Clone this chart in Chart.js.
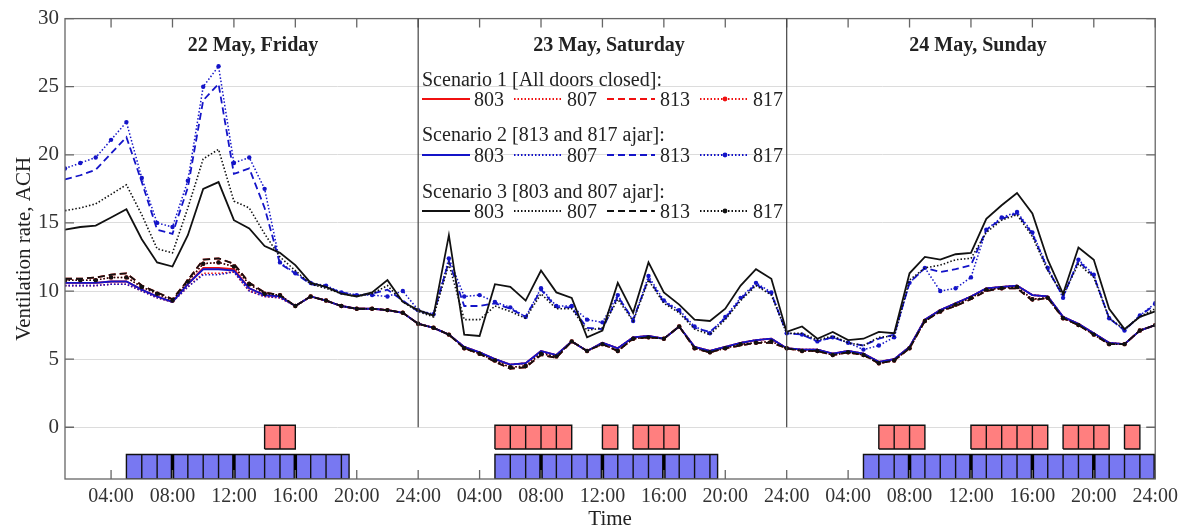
<!DOCTYPE html>
<html>
<head>
<meta charset="utf-8">
<script src="https://cdn.jsdelivr.net/npm/chart.js"></script>
<style>
  body { margin: 0; background: #fff; }
  #wrap { position: relative; width: 1184px; height: 532px; }
  #overlay { position: absolute; left: 0; top: 0; pointer-events: none; }
  #overlay text { font-family: "Liberation Serif", "Times New Roman", serif; fill: #222; }
</style>
</head>
<body>
<div id="wrap">
  <canvas id="myChart" width="1184" height="532"></canvas>
  <svg id="overlay" width="1184" height="532" xmlns="http://www.w3.org/2000/svg"></svg>
</div>
<script>
// hours since 22 May 00:00
const hours = [1,2,3,4,5,6,7,8,9,10,11,12,13,14,15,16,17,18,19,20,21,22,23,24,
  25,26,27,28,29,30,31,32,33,34,35,36,37,38,39,40,41,42,43,44,45,46,47,48,
  49,50,51,52,53,54,55,56,57,58,59,60,61,62,63,64,65,66,67,68,69,70,71,72];

const tickHours = [4,8,12,16,20,24,28,32,36,40,44,48,52,56,60,64,68,72];
const tickLabels = ["04:00","08:00","12:00","16:00","20:00","24:00","04:00","08:00","12:00",
  "16:00","20:00","24:00","04:00","08:00","12:00","16:00","20:00","24:00"];
const yTicks = [0,5,10,15,20,25,30];
const dayBreaks = [24,48];
const dayTitles = ["22 May, Friday", "23 May, Saturday", "24 May, Sunday"];

// Scenario 1 [All doors closed]
const s1_803 = [10.6,10.6,10.6,10.7,10.7,10.1,9.6,9.2,10.5,11.7,11.7,11.6,10.2,9.7,9.6,8.9,9.6,9.3,8.9,8.7,8.7,8.6,8.4,7.6,
  7.3,6.8,5.9,5.5,5.0,4.6,4.7,5.6,5.3,6.3,5.6,6.2,5.8,6.6,6.7,6.5,7.4,5.9,5.6,5.9,6.2,6.4,6.5,5.8,
  5.7,5.7,5.4,5.6,5.4,4.8,5.0,5.9,7.9,8.6,9.1,9.6,10.2,10.3,10.4,9.7,9.6,8.1,7.6,6.9,6.2,6.1,7.1,7.5];
const s1_807 = [10.4,10.4,10.4,10.5,10.5,10.0,9.5,9.2,10.3,11.3,11.3,11.4,10.0,9.6,9.5,8.9,9.6,9.3,8.9,8.7,8.7,8.6,8.4,7.6,
  7.3,6.8,5.9,5.5,5.0,4.6,4.7,5.5,5.3,6.3,5.6,6.2,5.8,6.6,6.7,6.5,7.4,5.9,5.6,5.9,6.2,6.4,6.5,5.8,
  5.7,5.7,5.4,5.6,5.4,4.8,5.0,5.9,7.9,8.6,9.1,9.6,10.2,10.3,10.4,9.7,9.6,8.1,7.6,6.9,6.2,6.1,7.1,7.5];
const s1_813 = [10.9,10.9,11.0,11.2,11.3,10.4,9.9,9.4,10.8,12.3,12.4,12.0,10.6,9.9,9.7,8.9,9.6,9.3,8.9,8.7,8.7,8.6,8.4,7.6,
  7.3,6.8,5.8,5.4,4.8,4.3,4.4,5.3,5.1,6.3,5.6,6.1,5.6,6.5,6.6,6.5,7.4,5.8,5.5,5.8,6.0,6.2,6.2,5.8,
  5.6,5.6,5.3,5.5,5.3,4.7,4.9,5.8,7.8,8.5,8.9,9.4,10.0,10.2,10.2,9.3,9.5,8.0,7.5,6.8,6.1,6.1,7.1,7.5];
const s1_817 = [10.8,10.8,10.8,11.0,11.0,10.3,9.8,9.3,10.7,12.0,12.1,11.8,10.5,9.8,9.7,8.9,9.6,9.3,8.9,8.7,8.7,8.6,8.4,7.6,
  7.3,6.8,5.8,5.4,4.9,4.4,4.5,5.4,5.2,6.3,5.6,6.1,5.6,6.5,6.6,6.5,7.4,5.8,5.5,5.8,6.1,6.2,6.3,5.8,
  5.6,5.6,5.3,5.5,5.3,4.7,4.9,5.8,7.8,8.5,9.0,9.5,10.1,10.2,10.3,9.4,9.5,8.0,7.5,6.8,6.1,6.1,7.1,7.5];

// Scenario 2 [813 and 817 ajar]
const s2_803 = [10.6,10.6,10.6,10.7,10.7,10.1,9.6,9.2,10.5,11.6,11.6,11.5,10.2,9.7,9.6,8.9,9.6,9.3,8.9,8.7,8.7,8.6,8.4,7.6,
  7.3,6.8,5.9,5.5,5.0,4.6,4.7,5.6,5.3,6.3,5.6,6.2,5.8,6.6,6.7,6.5,7.4,5.9,5.6,5.9,6.2,6.4,6.5,5.8,
  5.7,5.7,5.4,5.6,5.4,4.8,5.0,5.9,7.9,8.6,9.1,9.6,10.2,10.3,10.4,9.7,9.6,8.1,7.6,6.9,6.2,6.1,7.1,7.5];
const s2_807 = [10.4,10.4,10.4,10.5,10.5,10.0,9.5,9.2,10.3,11.2,11.2,11.4,10.0,9.6,9.5,8.9,9.6,9.3,8.9,8.7,8.7,8.6,8.4,7.6,
  7.3,6.8,5.9,5.5,5.0,4.6,4.7,5.5,5.3,6.3,5.6,6.2,5.8,6.6,6.7,6.5,7.4,5.9,5.6,5.9,6.2,6.4,6.5,5.8,
  5.7,5.7,5.4,5.6,5.4,4.8,5.0,5.9,7.9,8.6,9.1,9.6,10.2,10.3,10.4,9.7,9.6,8.1,7.6,6.9,6.2,6.1,7.1,7.5];
const s2_813 = [18.2,18.5,18.9,20.1,21.3,18.0,14.5,14.2,17.6,24.0,25.2,18.6,19.0,16.1,12.0,11.3,10.5,10.3,9.9,9.7,9.8,10.1,9.3,8.5,
  8.3,12.2,8.9,8.9,9.1,8.7,8.1,10.1,8.8,8.8,7.3,7.2,9.6,7.9,10.9,9.2,8.5,7.3,7.0,8.0,9.4,10.5,9.8,6.9,
  6.8,6.3,6.6,6.2,6.0,6.5,6.8,10.6,11.7,11.4,11.6,11.9,14.5,15.3,15.7,14.2,11.6,9.6,12.2,11.1,8.0,7.1,8.2,9.0];
const s2_817 = [19.0,19.4,19.8,21.1,22.4,18.3,15.0,14.7,18.1,25.0,26.5,19.4,19.8,17.5,12.1,11.3,10.6,10.4,9.9,9.7,9.7,9.6,10.0,8.6,
  8.3,12.4,9.6,9.7,9.2,8.8,8.1,10.2,8.9,8.9,7.9,7.7,9.7,7.8,11.1,9.3,8.6,7.4,6.9,8.1,9.5,10.6,9.9,6.9,
  6.8,6.3,6.6,6.2,5.7,6.0,6.6,10.6,11.7,10.0,10.2,11.0,14.5,15.4,15.8,14.3,11.7,9.5,12.3,11.2,8.0,7.1,8.2,9.1];

// Scenario 3 [803 and 807 ajar]
const s3_803 = [14.5,14.7,14.8,15.4,16.0,13.8,12.1,11.8,14.1,17.5,18.0,15.2,14.6,13.3,12.8,11.9,10.6,10.3,9.8,9.6,9.9,10.8,9.2,8.6,
  8.2,14.1,6.8,6.7,10.5,10.3,9.3,11.5,9.9,9.5,6.6,7.1,10.6,8.4,12.1,9.9,9.0,7.9,7.8,8.7,10.4,11.6,10.9,7.0,
  7.4,6.5,7.0,6.4,6.5,7.0,6.9,11.3,12.5,12.3,12.7,12.8,15.3,16.3,17.2,15.7,12.3,9.8,13.2,12.3,8.7,7.2,8.1,8.5];
const s3_807 = [15.9,16.1,16.4,17.1,17.8,15.6,13.1,12.8,16.1,19.7,20.4,16.6,16.1,14.2,12.5,11.5,10.5,10.2,9.8,9.6,9.8,10.4,9.2,8.5,
  8.1,12.0,7.9,7.9,8.9,8.5,8.0,9.8,8.7,8.7,7.1,7.3,9.4,7.8,10.8,9.1,8.4,7.2,6.8,7.9,9.3,10.4,9.7,6.9,
  6.9,6.4,6.7,6.2,6.0,6.6,6.7,10.8,11.7,11.9,12.3,12.4,14.3,15.2,15.6,14.0,11.5,9.7,12.0,11.0,8.0,7.2,8.1,8.7];
const s3_813 = [10.9,10.9,11.0,11.2,11.3,10.4,9.9,9.4,10.8,12.3,12.4,12.0,10.6,9.9,9.7,8.9,9.6,9.3,8.9,8.7,8.7,8.6,8.4,7.6,
  7.3,6.8,5.8,5.4,4.8,4.3,4.4,5.3,5.1,6.3,5.6,6.1,5.6,6.5,6.6,6.5,7.4,5.8,5.5,5.8,6.0,6.2,6.2,5.8,
  5.6,5.6,5.3,5.5,5.3,4.7,4.9,5.8,7.8,8.5,8.9,9.4,10.0,10.2,10.2,9.3,9.5,8.0,7.5,6.8,6.1,6.1,7.1,7.5];
const s3_817 = [10.8,10.8,10.8,11.0,11.0,10.3,9.8,9.3,10.7,12.0,12.1,11.8,10.5,9.8,9.7,8.9,9.6,9.3,8.9,8.7,8.7,8.6,8.4,7.6,
  7.3,6.8,5.8,5.4,4.9,4.4,4.5,5.4,5.2,6.3,5.6,6.1,5.6,6.5,6.6,6.5,7.4,5.8,5.5,5.8,6.1,6.2,6.3,5.8,
  5.6,5.6,5.3,5.5,5.3,4.7,4.9,5.8,7.8,8.5,9.0,9.5,10.1,10.2,10.3,9.4,9.5,8.0,7.5,6.8,6.1,6.1,7.1,7.5];

// occupancy blocks (start hour, end hour) and their band on the y axis
const redSpans = [[14,16],[29,34],[36,37],[38,41],[54,57],[60,65],[66,69],[70,71]];
const blueSpans = [[5,19.5],[29,43.5],[53,72]];
const redBand = [-1.6, 0.15];
const blueBand = [-3.8, -2.0];

const RED = "#f01010", BLUE = "#1414c8", BLACK = "#111111";
const FONT = '"Liberation Serif", "Times New Roman", serif';

const styles = {
  solid:   { borderDash: [], borderWidth: 1.8, pointRadius: 0 },
  dotted:  { borderDash: [1.5, 2], borderWidth: 1.6, pointRadius: 0 },
  dashed:  { borderDash: [7, 4], borderWidth: 1.8, pointRadius: 0 },
  dotmark: { borderDash: [1.5, 2], borderWidth: 1.5, pointRadius: 2.2 },
};

function series(label, vals, color, style, order) {
  return Object.assign({
    type: "line",
    label: label,
    data: hours.map((h, i) => ({ x: h, y: vals[i] })),
    borderColor: color,
    pointBackgroundColor: color,
    pointBorderWidth: 0,
    fill: false,
    tension: 0,
    order: order,
  }, styles[style]);
}

// one closed outline per block, with a divider at each hour
function blockPoints(span, band) {
  const [a, b] = span;
  const [lo, hi] = band;
  const pts = [{ x: a, y: lo }, { x: a, y: hi }];
  for (let h = Math.floor(a) + 1; h < b; h++) {
    pts.push({ x: h, y: hi }, { x: h, y: lo }, { x: h, y: hi });
  }
  pts.push({ x: b, y: hi }, { x: b, y: lo }, { x: a, y: lo });
  return pts;
}

function blocks(spans, band, color) {
  return spans.map((s) => ({
    type: "line",
    label: "block",
    data: blockPoints(s, band),
    borderColor: "#111",
    borderWidth: 1.4,
    backgroundColor: color,
    fill: "shape",
    pointRadius: 0,
    tension: 0,
    order: 10,
  }));
}

// heavier dividers where the 4-hour ticks fall inside a block
function heavyDividers(spans, band) {
  const pts = [];
  spans.forEach(([a, b]) => {
    tickHours.filter((h) => h > a && h <= b).forEach((h) => {
      pts.push({ x: h, y: band[0] }, { x: h, y: band[1] }, { x: h, y: null });
    });
  });
  return {
    type: "line",
    label: "dividers",
    data: pts,
    borderColor: "#000",
    borderWidth: 3.5,
    pointRadius: 0,
    spanGaps: false,
    fill: false,
    order: 9,
  };
}

const datasets = [
  series("S1 803", s1_803, RED, "solid", 3),
  series("S1 807", s1_807, RED, "dotted", 3),
  series("S1 813", s1_813, RED, "dashed", 3),
  series("S1 817", s1_817, RED, "dotmark", 3),
  series("S2 803", s2_803, BLUE, "solid", 2),
  series("S2 807", s2_807, BLUE, "dotted", 2),
  series("S2 813", s2_813, BLUE, "dashed", 2),
  series("S2 817", s2_817, BLUE, "dotmark", 2),
  series("S3 803", s3_803, BLACK, "solid", 1),
  series("S3 807", s3_807, BLACK, "dotted", 1),
  series("S3 813", s3_813, BLACK, "dashed", 1),
  series("S3 817", s3_817, BLACK, "dotmark", 1),
].concat(blocks(redSpans, redBand, "#ff7f7f"), blocks(blueSpans, blueBand, "#7878f2"),
  [heavyDividers(blueSpans, blueBand)]);

// box, inward ticks, day separators
const framePlugin = {
  id: "frame",
  afterDatasetsDraw(chart) {
    const { ctx, chartArea: a, scales } = chart;
    const x = scales.x, y = scales.y;
    ctx.save();
    ctx.strokeStyle = "#666";
    ctx.lineWidth = 1.3;
    ctx.strokeRect(a.left, a.top, a.right - a.left, a.bottom - a.top);
    ctx.beginPath();
    tickHours.forEach((h) => {
      const px = x.getPixelForValue(h);
      ctx.moveTo(px, a.bottom); ctx.lineTo(px, a.bottom - 9);
      ctx.moveTo(px, a.top); ctx.lineTo(px, a.top + 9);
    });
    yTicks.forEach((v) => {
      const py = y.getPixelForValue(v);
      ctx.moveTo(a.left, py); ctx.lineTo(a.left + 9, py);
      ctx.moveTo(a.right, py); ctx.lineTo(a.right - 9, py);
    });
    ctx.stroke();
    ctx.strokeStyle = "#444";
    ctx.lineWidth = 1.2;
    ctx.beginPath();
    dayBreaks.forEach((h) => {
      const px = x.getPixelForValue(h);
      ctx.moveTo(px, y.getPixelForValue(30));
      ctx.lineTo(px, y.getPixelForValue(0));
    });
    ctx.stroke();
    ctx.restore();
  },
};

const plot = new Chart(document.getElementById("myChart"), {
  type: "line",
  data: { datasets: datasets },
  plugins: [framePlugin],
  options: {
    responsive: false,
    animation: false,
    layout: { padding: { top: 18, right: 28, left: 8, bottom: 0 } },
    plugins: { legend: { display: false }, tooltip: { enabled: false } },
    scales: {
      x: {
        type: "linear",
        min: 1,
        max: 72,
        afterBuildTicks: (s) => { s.ticks = tickHours.map((v) => ({ value: v })); },
        afterFit: (s) => { s.height = 53; },
        grid: { display: false, drawTicks: false },
        border: { display: false },
        ticks: {
          autoSkip: false,
          maxRotation: 0,
          padding: 6,
          color: "#333",
          font: { family: FONT, size: 20 },
          callback: (v) => tickLabels[tickHours.indexOf(v)],
        },
        title: { display: true, text: "Time", color: "#222", font: { family: FONT, size: 21 }, padding: { top: 0, bottom: 0 } },
      },
      y: {
        min: -3.8,
        max: 30,
        afterBuildTicks: (s) => { s.ticks = yTicks.map((v) => ({ value: v })); },
        afterFit: (s) => { s.width = 57; },
        grid: { color: "#dcdcdc", lineWidth: 1, drawTicks: false },
        border: { display: false },
        ticks: { padding: 6, color: "#333", font: { family: FONT, size: 21 } },
        title: { display: true, text: "Ventilation rate, ACH", color: "#222", font: { family: FONT, size: 21 } },
      },
    },
  },
});

// day titles and legend as SVG text
const svg = document.getElementById("overlay");
const NS = "http://www.w3.org/2000/svg";
function el(tag, attrs, text) {
  const e = document.createElementNS(NS, tag);
  for (const k in attrs) e.setAttribute(k, attrs[k]);
  if (text) e.textContent = text;
  svg.appendChild(e);
  return e;
}

const titleX = [253, 609, 978];
dayTitles.forEach((t, i) => {
  el("text", { x: titleX[i], y: 51, "text-anchor": "middle", "font-size": 20, "font-weight": "bold" }, t);
});

const legendGroups = [
  { title: "Scenario 1 [All doors closed]:", color: RED },
  { title: "Scenario 2 [813 and 817 ajar]:", color: BLUE },
  { title: "Scenario 3 [803 and 807 ajar]:", color: BLACK },
];
const rooms = ["803", "807", "813", "817"];
const roomStyles = ["solid", "dotted", "dashed", "dotmark"];
const headY = [86, 141, 198];
const rowY = [99, 155, 211];
const sampleX = [422, 514, 607, 700];
const labelX = [474, 567, 660, 753];

legendGroups.forEach((g, gi) => {
  el("text", { x: 422, y: headY[gi], "font-size": 20 }, g.title);
  rooms.forEach((r, ri) => {
    const st = roomStyles[ri];
    const attrs = { x1: sampleX[ri], y1: rowY[gi], x2: sampleX[ri] + 48, y2: rowY[gi], stroke: g.color, "stroke-width": 2 };
    if (st === "dotted" || st === "dotmark") attrs["stroke-dasharray"] = "1.5 2";
    if (st === "dashed") attrs["stroke-dasharray"] = "7 4";
    el("line", attrs);
    if (st === "dotmark") el("circle", { cx: sampleX[ri] + 25, cy: rowY[gi], r: 2.4, fill: g.color });
    el("text", { x: labelX[ri], y: rowY[gi] + 7, "font-size": 20 }, r);
  });
});
</script>
</body>
</html>
